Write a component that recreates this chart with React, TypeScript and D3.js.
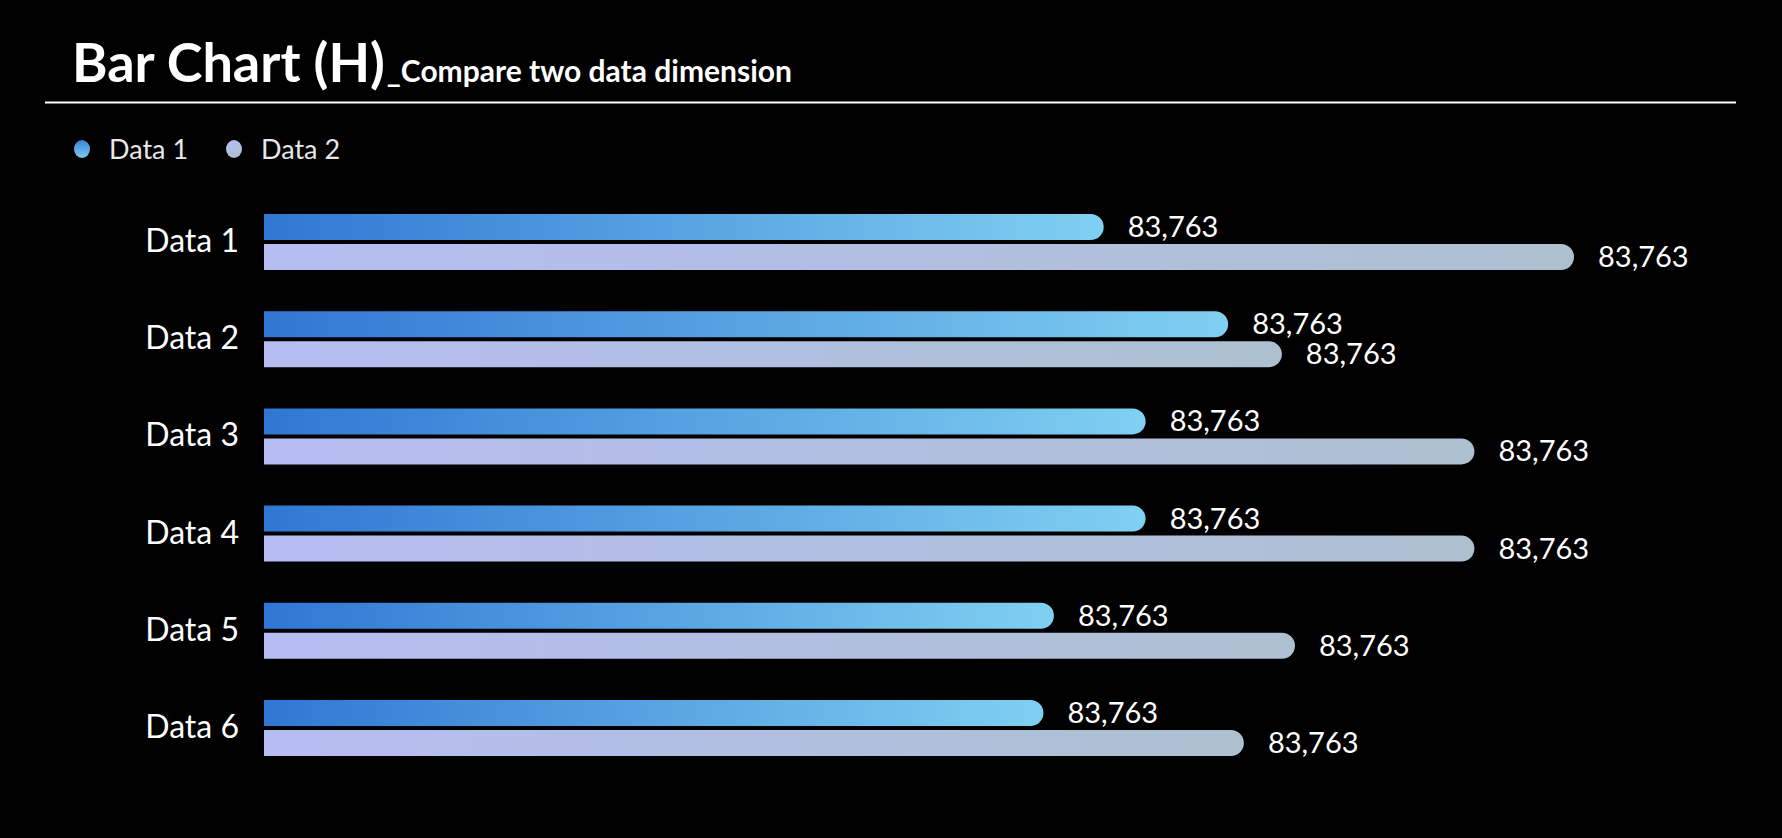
import React from "react";
import * as d3 from "d3";

const categories = ["Data 1", "Data 2", "Data 3", "Data 4", "Data 5", "Data 6"];
const seriesNames = ["Data 1", "Data 2"];
const data1Values = [64.1, 73.6, 67.3, 67.3, 60.3, 59.5];
const data2Values = [100, 77.7, 92.4, 92.4, 78.7, 74.8];
const data1Labels = ["83,763", "83,763", "83,763", "83,763", "83,763", "83,763"];
const data2Labels = ["83,763", "83,763", "83,763", "83,763", "83,763", "83,763"];

const W = 1782;
const H = 838;
const FONT = "Lato, 'Open Sans', sans-serif";

function barPath(x0: number, x1: number, y: number, h: number) {
  const r = Math.min(h / 2, Math.max(0, x1 - x0));
  const p = d3.path();
  p.moveTo(x0, y);
  p.lineTo(x1 - r, y);
  p.arcTo(x1, y, x1, y + r, r);
  p.lineTo(x1, y + h - r);
  p.arcTo(x1, y + h, x1 - r, y + h, r);
  p.lineTo(x0, y + h);
  p.closePath();
  return p.toString();
}

export default function App() {
  const x = d3.scaleLinear().domain([0, 100]).range([264, 1574]);
  const yc = d3.scalePoint<string>().domain(categories).range([242, 728]);
  const barH = 26;
  const gap = 4;
  const labelGap = 24;

  return (
    <div style={{ width: W, height: H, background: "#000" }}>
      <style>{`body{margin:0;background:#000;}`}</style>
      <svg width={W} height={H} style={{ display: "block", background: "#000" }}>
        <defs>
          <linearGradient id="g1" x1="0" y1="0" x2="1" y2="0">
            <stop offset="0%" stopColor="#3077d3" />
            <stop offset="100%" stopColor="#7fd0f1" />
          </linearGradient>
          <linearGradient id="g2" x1="0" y1="0" x2="1" y2="0">
            <stop offset="0%" stopColor="#b6bdf2" />
            <stop offset="100%" stopColor="#adc0d0" />
          </linearGradient>
          <linearGradient id="lg1" x1="0" y1="0" x2="0" y2="1">
            <stop offset="0%" stopColor="#3a82d8" />
            <stop offset="100%" stopColor="#7ccdef" />
          </linearGradient>
          <linearGradient id="lg2" x1="0" y1="0" x2="0" y2="1">
            <stop offset="0%" stopColor="#b6bdf2" />
            <stop offset="100%" stopColor="#adc0d0" />
          </linearGradient>
        </defs>

        <text x={72} y={82} fill="#fff" fontFamily={FONT} fontWeight={700}>
          <tspan fontSize={54}>Bar Chart (H)</tspan>
          <tspan fontSize={30} dx={2}>_Compare two data dimension</tspan>
        </text>
        <line x1={45} x2={1736} y1={102.5} y2={102.5} stroke="#fff" strokeWidth={2} />

        {seriesNames.map((name, i) => {
          const cx = i === 0 ? 82 : 234;
          return (
            <g key={name}>
              <ellipse cx={cx} cy={149} rx={8} ry={9} fill={i === 0 ? "url(#lg1)" : "url(#lg2)"} />
              <text x={cx + 27} y={159} fill="#e8e8e8" fontFamily={FONT} fontSize={27}>
                {name}
              </text>
            </g>
          );
        })}

        {categories.map((c, i) => {
          const center = yc(c) as number;
          const y1 = center - gap / 2 - barH;
          const y2 = center + gap / 2;
          const e1 = x(data1Values[i]);
          const e2 = x(data2Values[i]);
          return (
            <g key={c}>
              <text
                x={239}
                y={center + 10}
                textAnchor="end"
                fill="#fff"
                fontFamily={FONT}
                fontSize={32}
              >
                {c}
              </text>
              <path d={barPath(x(0), e1, y1, barH)} fill="url(#g1)" />
              <path d={barPath(x(0), e2, y2, barH)} fill="url(#g2)" />
              <text x={e1 + labelGap} y={y1 + barH / 2 + 10} fill="#fff" fontFamily={FONT} fontSize={29}>
                {data1Labels[i]}
              </text>
              <text x={e2 + labelGap} y={y2 + barH / 2 + 10} fill="#fff" fontFamily={FONT} fontSize={29}>
                {data2Labels[i]}
              </text>
            </g>
          );
        })}
      </svg>
    </div>
  );
}
